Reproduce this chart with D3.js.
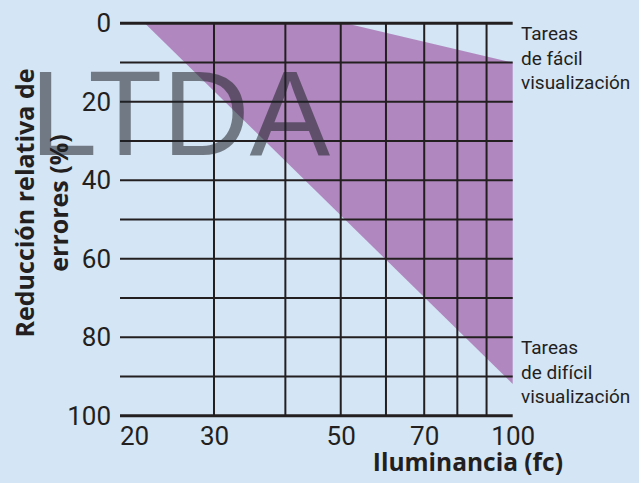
<!DOCTYPE html>
<html>
<head>
<meta charset="utf-8">
<script src="https://cdn.jsdelivr.net/npm/d3@7"></script>
<style>
  body { margin: 0; background: #d4e5f5; }
  svg { display: block; }
</style>
</head>
<body>
<div id="chart"></div>
<script>
// illuminance (fc) ticks and grid
var xTicks = [20, 30, 50, 70, 100];
var xGrid = [30, 40, 50, 60, 70, 80, 90];
// error reduction (%) ticks and grid
var yTicks = [0, 20, 40, 60, 80, 100];
var yGrid = [0, 10, 20, 30, 40, 50, 60, 70, 80, 90, 100];

// band outline: illuminance vs reduction
var bandIllum = [22.7, 51, 100, 100];
var bandReduction = [0, 0, 10, 91.9];

var topLabel = ["Tareas", "de fácil", "visualización"];
var bottomLabel = ["Tareas", "de difícil", "visualización"];

function main() {
    var W = 639, H = 483;
    var left = 120, right = 512.7;

    var x = d3.scaleLog().domain([20, 100]).range([113.4, 512.7]);
    var y = d3.scaleLinear().domain([0, 100]).range([23.3, 415.7]);

    var svg = d3.select("#chart").append("svg")
        .attr("width", W).attr("height", H);

    svg.append("rect").attr("width", W).attr("height", H).attr("fill", "#d4e5f5");

    // purple band
    var pts = bandIllum.map(function(d, i) { return [x(d), y(bandReduction[i])]; });
    svg.append("path")
        .attr("d", d3.line()(pts) + "Z")
        .attr("fill", "#b088bf");

    // grid
    var g = svg.append("g").attr("stroke", "#231f20");
    g.selectAll("line.h")
        .data(yGrid)
        .enter().append("line")
        .attr("class", "h")
        .attr("x1", left).attr("x2", right)
        .attr("y1", function(d) { return y(d); })
        .attr("y2", function(d) { return y(d); })
        .attr("stroke-width", function(d) { return (d === 0 || d === 100) ? 3 : 2; });
    g.selectAll("line.v")
        .data(xGrid)
        .enter().append("line")
        .attr("class", "v")
        .attr("x1", function(d) { return x(d); })
        .attr("x2", function(d) { return x(d); })
        .attr("y1", y(0)).attr("y2", y(100))
        .attr("stroke-width", 2);

    // axes (labels only)
    var ya = svg.append("g")
        .attr("transform", "translate(" + left + ",0)")
        .call(d3.axisLeft(y).tickValues(yTicks).tickSize(0).tickPadding(9));
    var xa = svg.append("g")
        .attr("transform", "translate(0," + y(100) + ")")
        .call(d3.axisBottom(x).tickValues(xTicks).tickFormat(d3.format("d")).tickSize(0).tickPadding(11));
    [ya, xa].forEach(function(a) {
        a.select(".domain").remove();
        a.selectAll("text")
            .attr("fill", "#231f20")
            .style("font-family", "Roboto, sans-serif")
            .style("font-size", "26px");
    });
    xa.selectAll(".tick text").filter(function(d) { return d === 20; })
        .attr("text-anchor", "start").attr("dx", 6);

    // axis titles
    svg.append("text")
        .attr("x", 563).attr("y", 471)
        .attr("text-anchor", "end")
        .attr("fill", "#231f20")
        .style("font-family", "'Open Sans', sans-serif")
        .style("font-weight", "bold")
        .style("font-size", "24.5px")
        .text("Iluminancia (fc)");

    var yt = svg.append("text")
        .attr("transform", "translate(0,203) rotate(-90)")
        .attr("text-anchor", "middle")
        .attr("fill", "#231f20")
        .style("font-family", "'Open Sans', sans-serif")
        .style("font-weight", "bold")
        .style("font-size", "25px");
    yt.append("tspan").attr("x", 0).attr("y", 34).text("Reducción relativa de");
    yt.append("tspan").attr("x", 0).attr("y", 68).text("errores (%)");

    // side notes
    function note(lines, y0) {
        var t = svg.append("text")
            .attr("fill", "#231f20")
            .style("font-family", "Roboto, sans-serif")
            .style("font-size", "19px");
        t.selectAll("tspan").data(lines).enter().append("tspan")
            .attr("x", 521)
            .attr("y", function(d, i) { return y0 + i * 24.5; })
            .text(function(d) { return d; });
    }
    note(topLabel, 40);
    note(bottomLabel, 354);

    // watermark
    svg.append("text")
        .attr("x", 30).attr("y", 155)
        .attr("fill", "#1e2126")
        .attr("fill-opacity", 0.55)
        .style("font-family", "'Liberation Sans', Arial, sans-serif")
        .style("font-size", "121px")
        .text("LTDA");
}

main();
</script>
</body>
</html>
